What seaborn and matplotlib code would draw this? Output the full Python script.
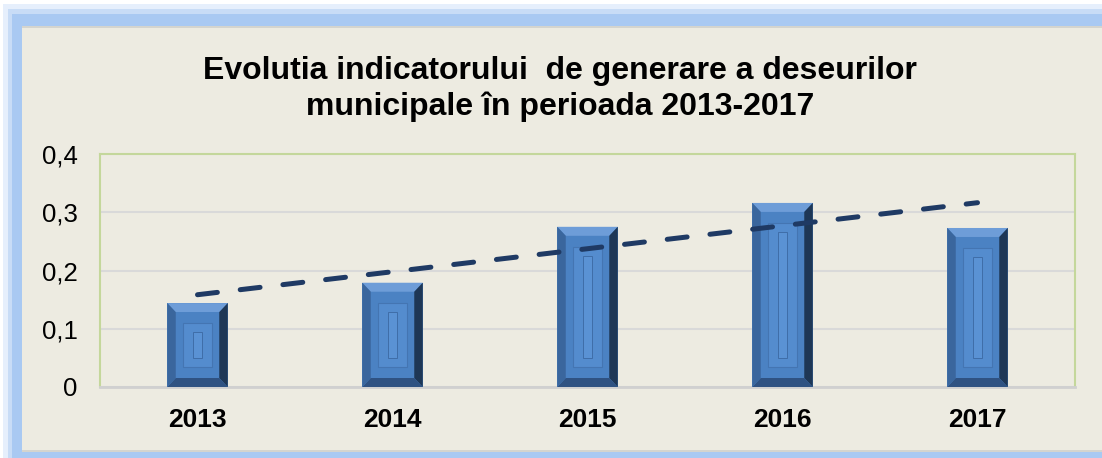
import numpy as np
import pandas as pd
import matplotlib.pyplot as plt
from matplotlib.patches import Rectangle, Polygon
import seaborn as sns

years = ["2013", "2014", "2015", "2016", "2017"]
values = [0.144, 0.179, 0.275, 0.316, 0.273]
yticks = [0, 0.1, 0.2, 0.3, 0.4]
ytick_labels = ["0", "0,1", "0,2", "0,3", "0,4"]
title = "Evolutia indicatorului  de generare a deseurilor\nmunicipale în perioada 2013-2017"

sns.set_style("white")
plt.rcParams["font.family"] = ["Liberation Sans", "DejaVu Sans"]

W, H = 1102, 458
BG = "#EDEBE1"
fig = plt.figure(figsize=(W / 100, H / 100), dpi=100, facecolor="white")


def px_rect(x0, y0, x1, y1, color):
    # rectangle given in image pixels (origin top-left)
    fig.patches.append(Rectangle((x0 / W, 1 - y1 / H), (x1 - x0) / W, (y1 - y0) / H,
                                 transform=fig.transFigure, facecolor=color,
                                 edgecolor="none", zorder=-10))


# blue glow frame around the chart
px_rect(3, 4, W + 10, H + 10, "#E6EFFC")
px_rect(8, 9, W + 10, H + 10, "#C8DCF6")
px_rect(12, 14, W + 10, H + 10, "#A9C9F2")
px_rect(22, 26, W + 10, 452, "#D4D4CE")
px_rect(22, 28, W + 10, 450, BG)

ax = fig.add_axes([100 / W, 1 - 387 / H, 975 / W, 233 / H])
ax.set_zorder(2)
ax.set_facecolor(BG)

df = pd.DataFrame({"year": years, "value": values})
sns.barplot(data=df, x="year", y="value", width=0.31, color="#4A7EBB",
            saturation=1, ax=ax, zorder=3)

ax.set_ylim(0, 0.4)
ax.set_xlim(-0.5, len(years) - 0.5)

# bevelled look for each bar, built from the bar geometry
ypx = 0.4 / 233
for p in list(ax.patches):
    x0, w, h = p.get_x(), p.get_width(), p.get_height()
    x1 = x0 + w
    bx, by = w * 0.14, 9 * ypx
    p.set_facecolor("#4A80C0")
    p.set_edgecolor("none")
    faces = [
        ([(x0, h), (x1, h), (x1 - bx, h - by), (x0 + bx, h - by)], "#6E9DD8"),
        ([(x1, h), (x1, 0), (x1 - bx, by), (x1 - bx, h - by)], "#1E3756"),
        ([(x0, 0), (x1, 0), (x1 - bx, by), (x0 + bx, by)], "#2F5282"),
        ([(x0, 0), (x0, h), (x0 + bx, h - by), (x0 + bx, by)], "#3A669D"),
    ]
    for pts, c in faces:
        ax.add_patch(Polygon(pts, closed=True, facecolor=c, edgecolor="none", zorder=4))
    ax.add_patch(Rectangle((x0 + bx, by), w - 2 * bx, h - 2 * by,
                           facecolor="#4B82C3", edgecolor="none", zorder=4))
    ax.add_patch(Rectangle((x0 + 1.8 * bx, 2.2 * by), w - 3.6 * bx, h - 4.4 * by,
                           facecolor="#548CCE", edgecolor="#4475B2", lw=0.8, zorder=4))
    ax.add_patch(Rectangle((x0 + w * 0.43, 3.2 * by), w * 0.14, h - 6.4 * by,
                           facecolor="#5A92D4", edgecolor="#3F6DA8", lw=0.7, zorder=4))

# linear trend line
xi = np.arange(len(values))
k, b = np.polyfit(xi, values, 1)
ax.plot(xi, k * xi + b, color="#1F3A64", lw=3.6, linestyle=(0, (4.0, 4.6)),
        dash_capstyle="round", zorder=5)

ax.set_yticks(yticks)
ax.set_yticklabels(ytick_labels, fontsize=18.5, color="black")
ax.set_xticks(xi)
ax.set_xticklabels(years, fontsize=19, fontweight="bold", color="black")
ax.tick_params(axis="y", length=0, pad=16)
ax.tick_params(axis="x", length=0, pad=15)
ax.set_xlabel("")
ax.set_ylabel("")
ax.yaxis.grid(True, color="#D9D9D9", lw=1.5, zorder=1)
ax.set_axisbelow(True)

for s in ["left", "top", "right"]:
    ax.spines[s].set_color("#C4D79B")
    ax.spines[s].set_linewidth(1.5)
ax.spines["bottom"].set_color("#D0D0D0")
ax.spines["bottom"].set_linewidth(2)

fig.text(560 / W, 1 - 89 / H, title, ha="center", va="center", fontsize=23,
         fontweight="bold", linespacing=1.22, color="black")

fig.savefig("out.png", dpi=100, facecolor=fig.get_facecolor())
